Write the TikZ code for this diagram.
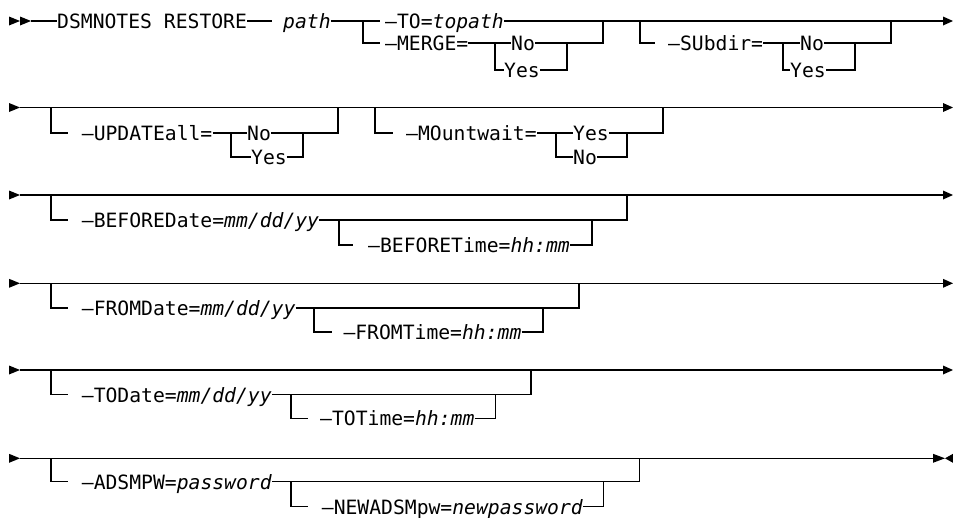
\documentclass[tikz,border=0pt]{standalone}
\usepackage{fontspec}
\newfontfamily\monofam{DejaVu Sans Mono}
\begin{document}
\begin{tikzpicture}[x=1pt,y=-1pt,
  rail/.style={line width=1.2pt},
  lbl/.style={inner sep=0pt, anchor=west, text height=15pt, text depth=0pt,
    font=\monofam\fontsize{19.7pt}{22pt}\selectfont},
  tipfill/.style={fill=black}]
\useasboundingbox (0,0) rectangle (953,517);

% ---------------- Row 1 ----------------
\fill[tipfill] (9,16.5)--(20,21)--(9,25.5)--cycle;
\fill[tipfill] (20,16.5)--(31,21)--(20,25.5)--cycle;
\coordinate (s1) at (31,21);
\node[lbl] (dsm) at (57,21) {DSMNOTES RESTORE};
\coordinate (d1) at (272,21);
\node[lbl] (path) at (283,21) {\textit{path}};
\coordinate (b1) at (363,21);
\coordinate (b1e) at (380,21);
\node[lbl] (to) at (385,21) {–TO=\textit{topath}};
\coordinate (e1) at (943,21);
\draw[rail] (s1) -- (dsm.west);
\draw[rail] (dsm.east) -- (d1);
\draw[rail] (path.east) -- (b1e);
\draw[rail] (to.east) -- (e1);
\fill[tipfill] (943,16.5)--(953,21)--(943,25.5)--cycle;
% MERGE
\coordinate (m1) at (363,43);
\coordinate (m1e) at (380,43);
\draw[rail] (b1) -- (m1) -- (m1e);
\node[lbl] (merge) at (385,43) {–MERGE=};
\node[lbl] (mno) at (511,43) {No};
\node[lbl] (myes) at (504,70) {Yes};
\coordinate (mb) at (495,43);
\coordinate (mbd) at (495,70);
\coordinate (mj) at (567,70);
\coordinate (mju) at (567,43);
\coordinate (mk) at (603,43);
\coordinate (mku) at (603,21);
\draw[rail] (merge.east) -- (mno.west);
\draw[rail] (mb) -- (mbd) -- (myes.west);
\draw[rail] (mno.east) -- (mk) -- (mku);
\draw[rail] (myes.east) -- (mj) -- (mju);
% SUbdir
\coordinate (sb) at (640,21);
\coordinate (sbd) at (640,43);
\coordinate (sbe) at (655,43);
\draw[rail] (sb) -- (sbd) -- (sbe);
\node[lbl] (sub) at (668,43) {–SUbdir=};
\node[lbl] (sno) at (800,43) {No};
\node[lbl] (syes) at (790,70) {Yes};
\coordinate (sc) at (783,43);
\coordinate (scd) at (783,70);
\coordinate (sj) at (855,70);
\coordinate (sju) at (855,43);
\coordinate (sk) at (891,43);
\coordinate (sku) at (891,21);
\draw[rail] (sub.east) -- (sno.west);
\draw[rail] (sc) -- (scd) -- (syes.west);
\draw[rail] (sno.east) -- (sk) -- (sku);
\draw[rail] (syes.east) -- (sj) -- (sju);

% ---------------- Row 2 ----------------
\fill[tipfill] (9,103)--(20,107.5)--(9,112)--cycle;
\coordinate (s2) at (20,107.5);
\coordinate (e2) at (943,107.5);
\draw[rail] (s2) -- (e2);
\fill[tipfill] (943,103)--(953,107.5)--(943,112)--cycle;
% UPDATEall
\coordinate (ub) at (51,107.5);
\coordinate (ubd) at (51,133);
\coordinate (ube) at (68,133);
\draw[rail] (ub) -- (ubd) -- (ube);
\node[lbl] (upd) at (81.7,133) {–UPDATEall=};
\node[lbl] (uno) at (247,133) {No};
\node[lbl] (uyes) at (251,157) {Yes};
\coordinate (uc) at (231,133);
\coordinate (ucd) at (231,157);
\coordinate (uj) at (303,157);
\coordinate (uju) at (303,133);
\coordinate (uk) at (338,133);
\coordinate (uku) at (338,107.5);
\draw[rail] (upd.east) -- (uno.west);
\draw[rail] (uc) -- (ucd) -- (uyes.west);
\draw[rail] (uno.east) -- (uk) -- (uku);
\draw[rail] (uyes.east) -- (uj) -- (uju);
% MOuntwait
\coordinate (wb) at (375,107.5);
\coordinate (wbd) at (375,133);
\coordinate (wbe) at (393,133);
\draw[rail] (wb) -- (wbd) -- (wbe);
\node[lbl] (mou) at (406,133) {–MOuntwait=};
\node[lbl] (wyes) at (573,133) {Yes};
\node[lbl] (wno) at (573,157) {No};
\coordinate (wc) at (556,133);
\coordinate (wcd) at (556,157);
\coordinate (wj) at (627,157);
\coordinate (wju) at (627,133);
\coordinate (wk) at (663,133);
\coordinate (wku) at (663,107.5);
\draw[rail] (mou.east) -- (wyes.west);
\draw[rail] (wc) -- (wcd) -- (wno.west);
\draw[rail] (wyes.east) -- (wk) -- (wku);
\draw[rail] (wno.east) -- (wj) -- (wju);

% ---------------- Row 3 ----------------
\fill[tipfill] (9,190.5)--(20,195)--(9,199.5)--cycle;
\coordinate (s3) at (20,195);
\coordinate (e3) at (943,195);
\draw[rail] (s3) -- (e3);
\fill[tipfill] (943,190.5)--(953,195)--(943,199.5)--cycle;
\coordinate (bb) at (51,195);
\coordinate (bbd) at (51,220);
\coordinate (bbe) at (68,220);
\draw[rail] (bb) -- (bbd) -- (bbe);
\node[lbl] (bd) at (81.7,220) {–BEFOREDate=\textit{mm/dd/yy}};
\coordinate (bk) at (627,220);
\coordinate (bku) at (627,195);
\draw[rail] (bd.east) -- (bk) -- (bku);
\coordinate (btb) at (339,220);
\coordinate (btd) at (339,245);
\coordinate (bte) at (353,245);
\draw[rail] (btb) -- (btd) -- (bte);
\node[lbl] (bt) at (368,245) {–BEFORETime=\textit{hh:mm}};
\coordinate (btj) at (592,245);
\coordinate (btu) at (592,220);
\draw[rail] (bt.east) -- (btj) -- (btu);

% ---------------- Row 4 ----------------
\fill[tipfill] (9,278.8)--(20,283.3)--(9,287.8)--cycle;
\coordinate (s4) at (20,283.3);
\coordinate (e4) at (943,283.3);
\draw[rail] (s4) -- (e4);
\fill[tipfill] (943,278.8)--(953,283.3)--(943,287.8)--cycle;
\coordinate (fb) at (51,283.3);
\coordinate (fbd) at (51,308);
\coordinate (fbe) at (68,308);
\draw[rail] (fb) -- (fbd) -- (fbe);
\node[lbl] (fd) at (81.7,308) {–FROMDate=\textit{mm/dd/yy}};
\coordinate (fk) at (579,308);
\coordinate (fku) at (579,283.3);
\draw[rail] (fd.east) -- (fk) -- (fku);
\coordinate (ftb) at (314,308);
\coordinate (ftd) at (314,332);
\coordinate (fte) at (331.7,332);
\draw[rail] (ftb) -- (ftd) -- (fte);
\node[lbl] (ft) at (343.3,332) {–FROMTime=\textit{hh:mm}};
\coordinate (ftj) at (543,332);
\coordinate (ftu) at (543,308);
\draw[rail] (ft.east) -- (ftj) -- (ftu);

% ---------------- Row 5 ----------------
\fill[tipfill] (9,365.5)--(20,370)--(9,374.5)--cycle;
\coordinate (s5) at (20,370);
\coordinate (e5) at (943,370);
\draw[rail] (s5) -- (e5);
\fill[tipfill] (943,365.5)--(953,370)--(943,374.5)--cycle;
\coordinate (tb) at (51,370);
\coordinate (tbd) at (51,394.5);
\coordinate (tbe) at (68,394.5);
\draw[rail] (tb) -- (tbd) -- (tbe);
\node[lbl] (td) at (81.7,394.5) {–TODate=\textit{mm/dd/yy}};
\coordinate (tk) at (531,394.5);
\coordinate (tku) at (531,370);
\draw[rail] (td.east) -- (tk) -- (tku);
\coordinate (ttb) at (291,394.5);
\coordinate (ttd) at (291,418.3);
\coordinate (tte) at (308.3,418.3);
\draw[rail] (ttb) -- (ttd) -- (tte);
\node[lbl] (tt) at (320,418.3) {–TOTime=\textit{hh:mm}};
\coordinate (ttj) at (495.7,418.3);
\coordinate (ttu) at (495.7,394.5);
\draw[rail] (tt.east) -- (ttj) -- (ttu);

% ---------------- Row 6 ----------------
\fill[tipfill] (9,453.8)--(20,458.3)--(9,462.8)--cycle;
\coordinate (s6) at (20,458.3);
\coordinate (e6) at (933,458.3);
\draw[rail] (s6) -- (e6);
\fill[tipfill] (933,453.8)--(945,458.3)--(933,462.8)--cycle;
\fill[tipfill] (953,453.8)--(945,458.3)--(953,462.8)--cycle;
\coordinate (ab) at (51,458.3);
\coordinate (abd) at (51,481.7);
\coordinate (abe) at (68,481.7);
\draw[rail] (ab) -- (abd) -- (abe);
\node[lbl] (ad) at (81.7,481.7) {–ADSMPW=\textit{password}};
\coordinate (ak) at (639.3,481.7);
\coordinate (aku) at (639.3,458.3);
\draw[rail] (ad.east) -- (ak) -- (aku);
\coordinate (nb) at (291,481.7);
\coordinate (nbd) at (291,506.7);
\coordinate (nbe) at (308,506.7);
\draw[rail] (nb) -- (nbd) -- (nbe);
\node[lbl] (na) at (321.7,506.7) {–NEWADSMpw=\textit{newpassword}};
\coordinate (nj) at (603.3,506.7);
\coordinate (nu) at (603.3,481.7);
\draw[rail] (na.east) -- (nj) -- (nu);
\end{tikzpicture}
\end{document}
